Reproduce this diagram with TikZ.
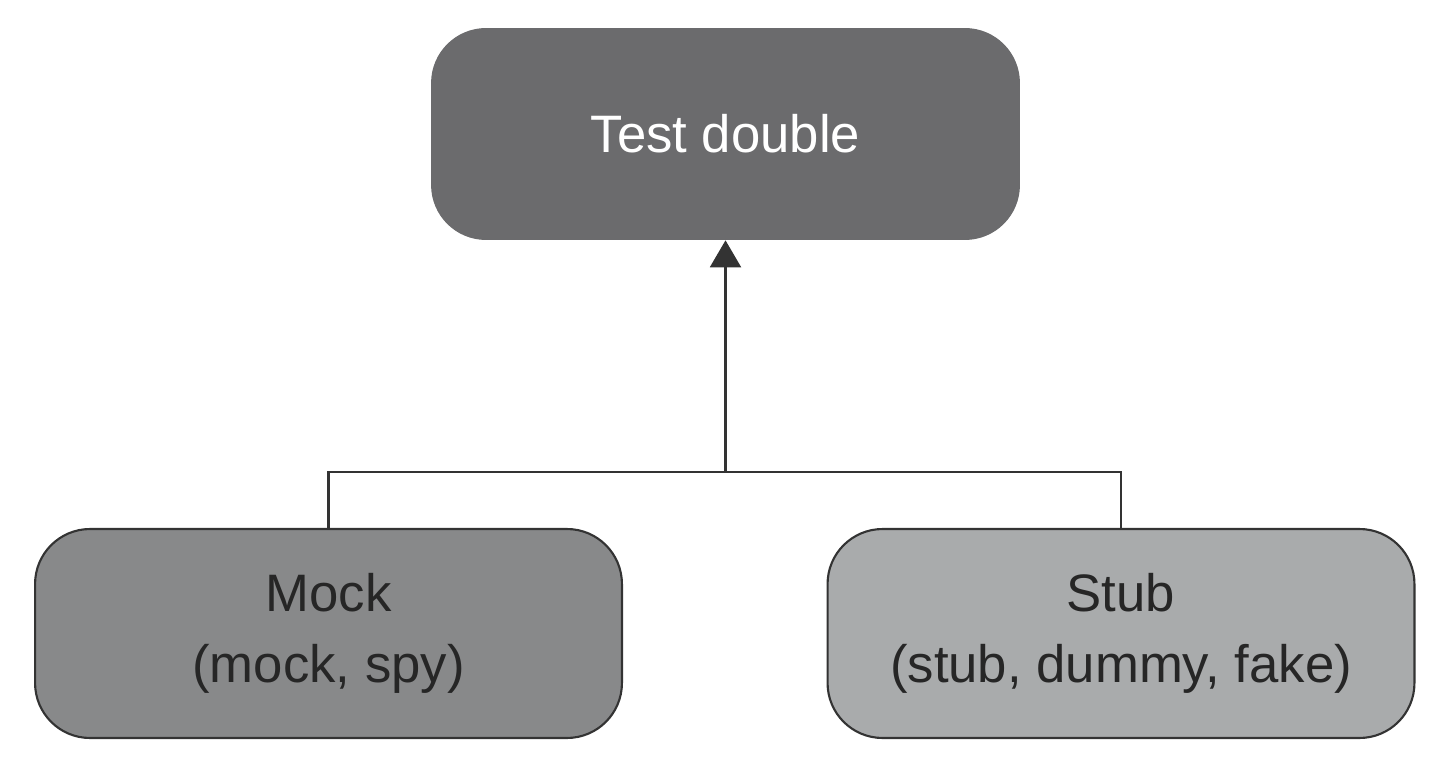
\documentclass[tikz,border=0pt]{standalone}
\usepackage{fontspec}
\setmainfont{Liberation Sans}
\usetikzlibrary{arrows.meta}
\definecolor{doublegray}{HTML}{6B6B6D}
\definecolor{mockgray}{HTML}{88898A}
\definecolor{stubgray}{HTML}{A9ABAC}
\definecolor{linegray}{HTML}{333333}
\tikzset{
  kindbox/.style = {rounded corners = 1.1cm, align = center,
    minimum width = 11.74cm, minimum height = 4.18cm,
    font = \fontsize{30}{40}\selectfont, text = black!85},
  link/.style = {draw = linegray, line width = 1.2pt}
}
\begin{document}
\begin{tikzpicture}[x = .02cm, y = -.02cm]
  \useasboundingbox (0,0) rectangle (1452,780);
  \node [kindbox, fill = doublegray, text = white,
    minimum width = 11.78cm, minimum height = 4.24cm] (double)
    at (725.5,134) {Test double};
  \node [kindbox, fill = mockgray, draw = linegray, line width = 1.2pt] (mock)
    at (328.5,633.5) {Mock\\(mock, spy)};
  \node [kindbox, fill = stubgray, draw = linegray, line width = 1.2pt] (stub)
    at (1121,633.5) {Stub\\(stub, dummy, fake)};
  \coordinate (join) at (725.5,472);
  \draw [link] (mock.north) |- (join) -| (stub.north);
  \draw [link, -{Triangle[width = .62cm, length = .54cm]}] (join) -- (double.south);
\end{tikzpicture}
\end{document}
